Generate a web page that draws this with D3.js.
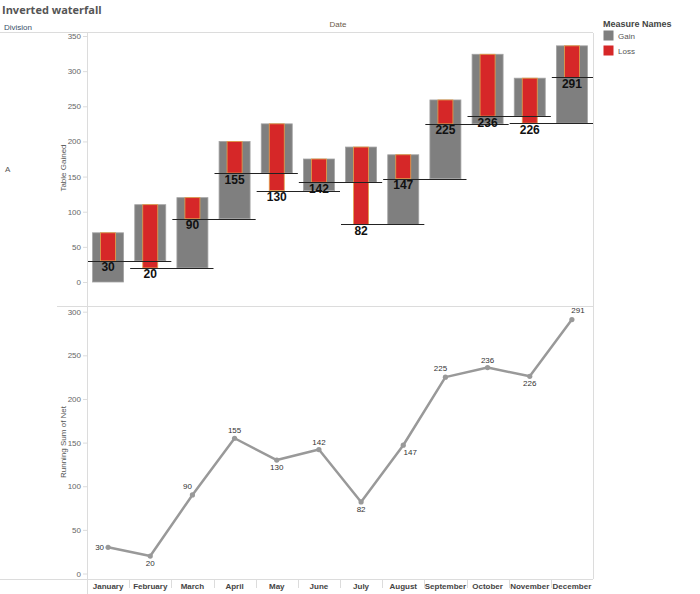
<!DOCTYPE html>
<html lang="en">
<head>
  <meta charset="UTF-8">
  <title>Inverted waterfall</title>
  <script src="https://cdn.jsdelivr.net/npm/d3@7"></script>
  <style>
    html, body { margin: 0; padding: 0; background: #fff; }
    svg { display: block; font-family: "Liberation Sans", Arial, sans-serif; }
  </style>
</head>
<body>
  <div id="chart"></div>
  <script>
    const months = ['January', 'February', 'March', 'April', 'May', 'June',
      'July', 'August', 'September', 'October', 'November', 'December'];
    const gains = [70, 80, 100, 110, 70, 45, 50, 99, 112, 99, 54, 110];
    const losses = [40, 90, 30, 45, 95, 33, 110, 34, 34, 88, 64, 45];
    const topTicks = [0, 50, 100, 150, 200, 250, 300, 350];
    const bottomTicks = [0, 50, 100, 150, 200, 250, 300];
    // where each running-sum label sits around its point in the line chart
    const labelPlacement = ['left', 'below', 'aboveLeft', 'above', 'below', 'above',
      'below', 'belowRight', 'aboveLeft', 'above', 'below', 'aboveRight'];

    const net = gains.map((g, i) => g - losses[i]);
    const running = Array.from(d3.cumsum(net));
    const start = running.map((r, i) => i === 0 ? 0 : running[i - 1]);

    const W = 700, H = 594;
    const left = 87, right = 593;
    const svg = d3.select('#chart').append('svg').attr('width', W).attr('height', H);

    const x = d3.scaleBand().domain(months).range([left, right]);
    const yTop = d3.scaleLinear().domain([0, 350]).range([282, 36]);
    const yBot = d3.scaleLinear().domain([0, 300]).range([573.5, 311.7]);

    const grid = '#dcdcdc';

    // title and headers
    svg.append('text').attr('x', 2).attr('y', 14)
      .attr('font-family', '"Open Sans", sans-serif').attr('font-weight', 'bold')
      .attr('font-size', 11).attr('fill', '#555').text('Inverted waterfall');
    svg.append('text').attr('x', 4).attr('y', 30).attr('font-size', 8)
      .attr('fill', '#3b4f6b').text('Division');
    svg.append('text').attr('x', (left + right) / 2 - 2).attr('y', 27).attr('font-size', 8)
      .attr('text-anchor', 'middle').attr('fill', '#6b5a48').text('Date');
    svg.append('text').attr('x', 5).attr('y', 172).attr('font-size', 8)
      .attr('fill', '#555').text('A');

    // frame lines
    svg.append('line').attr('x1', 0).attr('x2', right).attr('y1', 32.5).attr('y2', 32.5).attr('stroke', grid);
    svg.append('line').attr('x1', 57).attr('x2', right).attr('y1', 306.5).attr('y2', 306.5).attr('stroke', grid);
    svg.append('line').attr('x1', 0).attr('x2', right).attr('y1', 579.5).attr('y2', 579.5).attr('stroke', grid);
    svg.append('line').attr('x1', left + 0.5).attr('x2', left + 0.5).attr('y1', 33).attr('y2', 594).attr('stroke', grid);
    svg.append('line').attr('x1', right + 0.5).attr('x2', right + 0.5).attr('y1', 33).attr('y2', 579).attr('stroke', grid);

    // month separators under the bottom axis
    svg.append('g').selectAll('line').data(months.slice(1)).join('line')
      .attr('x1', d => Math.round(x(d)) + 0.5).attr('x2', d => Math.round(x(d)) + 0.5)
      .attr('y1', 580).attr('y2', 588).attr('stroke', grid);

    function yAxis(scale, ticks) {
      const g = svg.append('g').attr('transform', `translate(${left},0)`)
        .call(d3.axisLeft(scale).tickValues(ticks).tickSize(4).tickPadding(2));
      g.select('.domain').remove();
      g.selectAll('.tick line').attr('stroke', grid);
      g.selectAll('.tick text').attr('font-size', 8).attr('fill', '#666')
        .attr('font-family', '"Liberation Sans", Arial, sans-serif');
    }
    yAxis(yTop, topTicks);
    yAxis(yBot, bottomTicks);

    svg.append('text').attr('transform', 'translate(66,168) rotate(-90)')
      .attr('text-anchor', 'middle').attr('font-size', 8).attr('fill', '#555').text('Table Gained');
    svg.append('text').attr('transform', 'translate(66,442) rotate(-90)')
      .attr('text-anchor', 'middle').attr('font-size', 8).attr('fill', '#555').text('Running Sum of Net');

    // month labels
    svg.append('g').selectAll('text').data(months).join('text')
      .attr('x', d => x(d) + x.bandwidth() / 2).attr('y', 589)
      .attr('text-anchor', 'middle').attr('font-size', 8).attr('font-weight', 'bold')
      .attr('fill', '#444').text(d => d);

    // waterfall bars
    const bw = x.bandwidth();
    const grayW = 31, redW = 15;
    const wf = svg.append('g');
    wf.selectAll('rect.gain').data(months).join('rect').attr('class', 'gain')
      .attr('x', d => x(d) + (bw - grayW) / 2)
      .attr('width', grayW)
      .attr('y', (d, i) => yTop(start[i] + gains[i]))
      .attr('height', (d, i) => yTop(start[i]) - yTop(start[i] + gains[i]))
      .attr('fill', '#7f7f7f').attr('stroke', '#a3a3a3').attr('stroke-width', 0.8);
    wf.selectAll('rect.loss').data(months).join('rect').attr('class', 'loss')
      .attr('x', d => x(d) + (bw - redW) / 2)
      .attr('width', redW)
      .attr('y', (d, i) => yTop(start[i] + gains[i]))
      .attr('height', (d, i) => yTop(running[i]) - yTop(start[i] + gains[i]))
      .attr('fill', '#d62728').attr('stroke', '#e4a24a').attr('stroke-width', 0.8);

    // running sum reference lines span the month and the next one
    wf.selectAll('line.ref').data(months).join('line').attr('class', 'ref')
      .attr('x1', d => x(d) + 1)
      .attr('x2', (d, i) => Math.min(right, x(d) + bw * 2))
      .attr('y1', (d, i) => Math.round(yTop(running[i])) + 0.5)
      .attr('y2', (d, i) => Math.round(yTop(running[i])) + 0.5)
      .attr('stroke', '#222').attr('stroke-width', 1);

    wf.selectAll('text.val').data(months).join('text').attr('class', 'val')
      .attr('x', d => x(d) + bw / 2)
      .attr('y', (d, i) => yTop(running[i]) + 10.5)
      .attr('text-anchor', 'middle').attr('font-size', 12).attr('font-weight', 'bold')
      .attr('fill', '#111').text((d, i) => running[i]);

    // running sum line
    const bot = svg.append('g');
    const line = d3.line().x((d, i) => x(months[i]) + bw / 2).y(d => yBot(d));
    bot.append('path').attr('d', line(running)).attr('fill', 'none')
      .attr('stroke', '#999').attr('stroke-width', 2.5).attr('stroke-linejoin', 'round');
    bot.selectAll('circle').data(running).join('circle')
      .attr('cx', (d, i) => x(months[i]) + bw / 2).attr('cy', d => yBot(d))
      .attr('r', 2.6).attr('fill', '#999');

    const offsets = {
      left: [-4, 3, 'end'],
      below: [0, 10, 'middle'],
      above: [0, -5, 'middle'],
      aboveLeft: [-5, -6, 'middle'],
      aboveRight: [6, -7, 'middle'],
      belowRight: [7, 10, 'middle']
    };
    bot.selectAll('text').data(running).join('text')
      .attr('x', (d, i) => x(months[i]) + bw / 2 + offsets[labelPlacement[i]][0])
      .attr('y', (d, i) => yBot(d) + offsets[labelPlacement[i]][1])
      .attr('text-anchor', (d, i) => offsets[labelPlacement[i]][2])
      .attr('font-size', 8).attr('fill', '#333').text(d => d);

    // legend
    const legend = svg.append('g').attr('transform', 'translate(603,0)');
    legend.append('text').attr('x', 0).attr('y', 27).attr('font-size', 9)
      .attr('font-weight', 'bold').attr('fill', '#444').text('Measure Names');
    const legendItems = [['Gain', '#7f7f7f'], ['Loss', '#d62728']];
    legendItems.forEach(([name, color], i) => {
      legend.append('rect').attr('x', 0.5).attr('y', 30.5 + i * 15).attr('width', 10).attr('height', 10)
        .attr('fill', color);
      legend.append('text').attr('x', 15).attr('y', 38.5 + i * 15).attr('font-size', 8)
        .attr('fill', '#555').text(name);
    });
  </script>
</body>
</html>
